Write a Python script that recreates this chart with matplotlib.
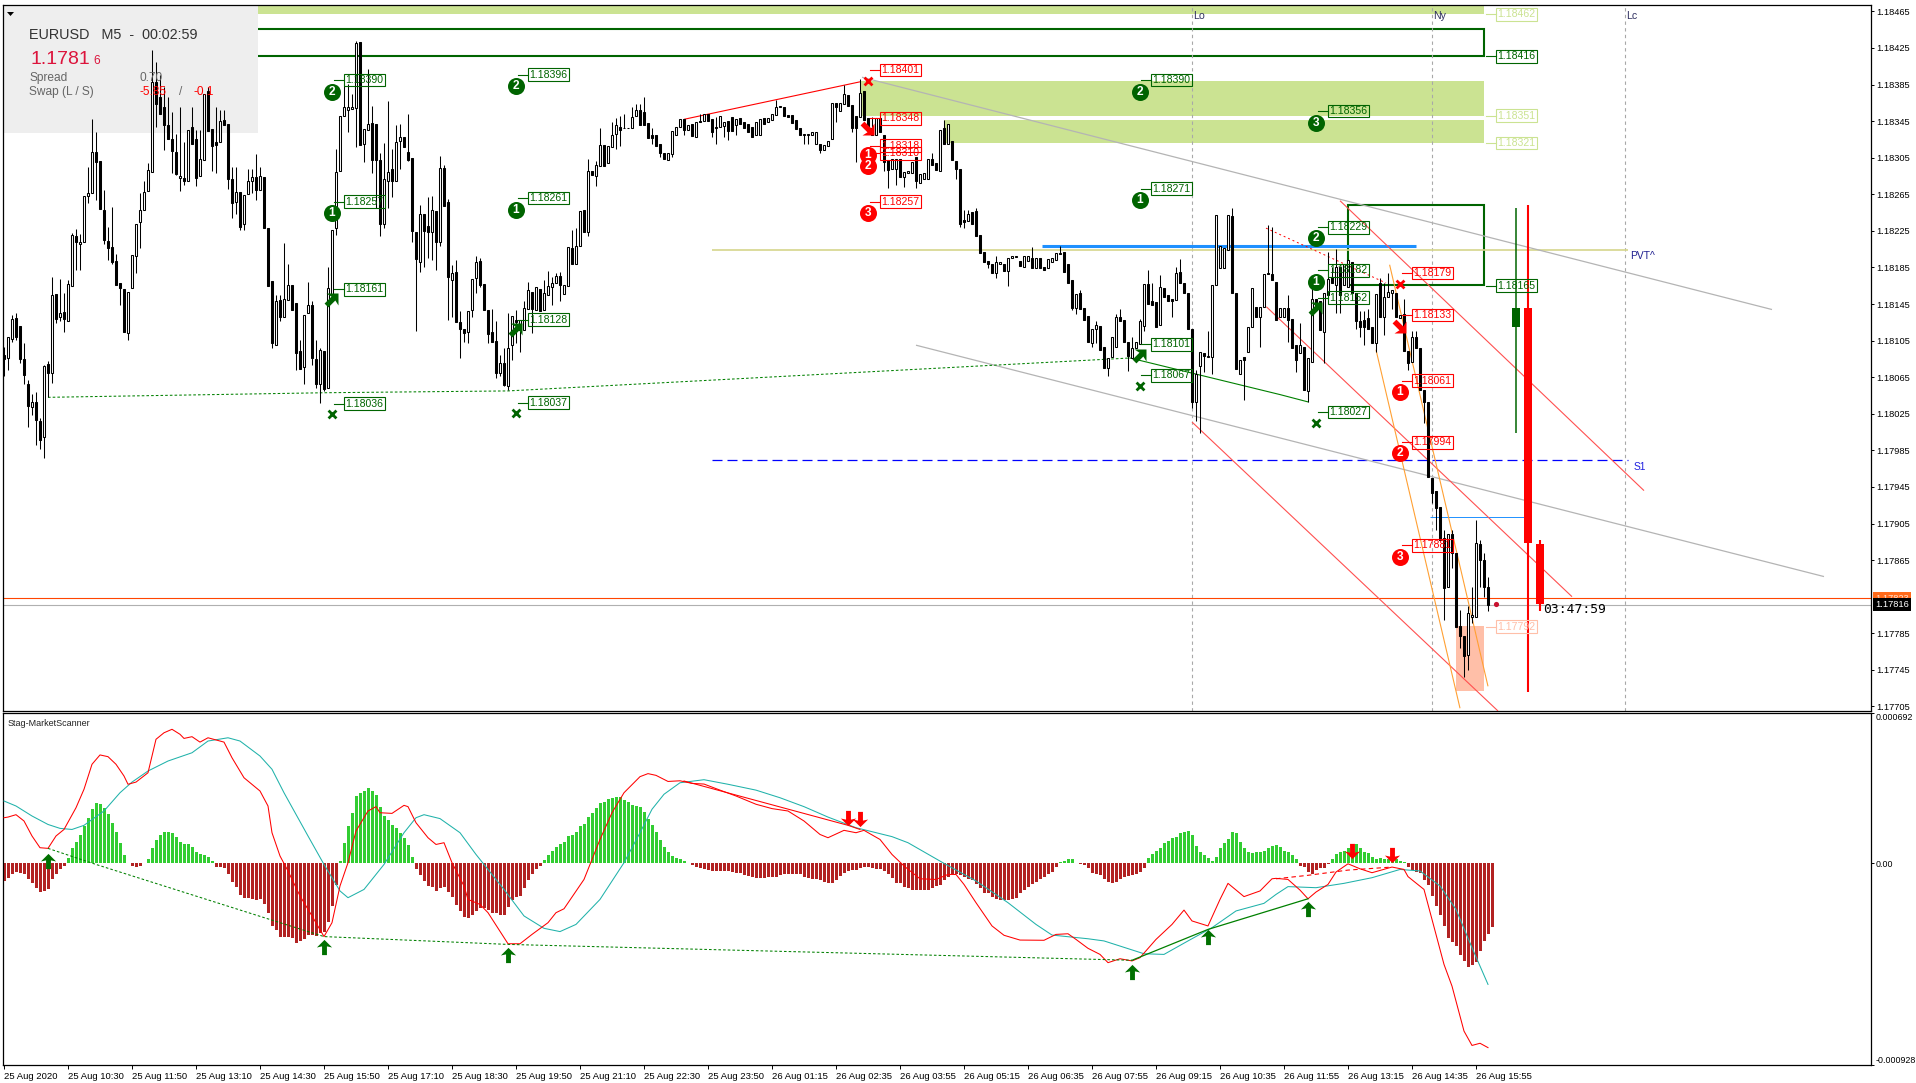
import numpy as np
import matplotlib
matplotlib.use("Agg")
import matplotlib.pyplot as plt
from matplotlib.patches import Rectangle

W, H = 1916, 1083
plt.rcParams['font.family'] = ['Liberation Sans', 'DejaVu Sans']

# ohlc in 1/100000 above 1.0, one bar per 5 minutes
opens = [
 18089,18086,18107,18130,18121,18085,18058,18032,18038,18017,
 18000,18079,18070,18156,18131,18136,18127,18165,18219,18211,
 18213,18263,18266,18311,18301,18248,18214,18207,18192,18168,
 18161,18113,18162,18197,18235,18248,18269,18289,18388,18371,
 18360,18341,18325,18311,18283,18283,18279,18339,18325,18285,
 18303,18378,18336,18322,18322,18346,18342,18282,18257,18268,
 18233,18265,18279,18284,18270,18284,18228,18170,18100,18149,
 18131,18149,18166,18146,18094,18076,18135,18144,18085,18058,
 18094,18053,18156,18228,18290,18351,18357,18358,18359,18431,
 18320,18335,18343,18342,18303,18233,18279,18293,18280,18323,
 18328,18311,18305,18224,18191,18243,18230,18224,18247,18213,
 18294,18257,18171,18180,18125,18118,18114,18138,18174,18192,
 18167,18139,18114,18105,18070,18080,18055,18100,18128,18117,
 18117,18140,18158,18138,18161,18139,18155,18164,18168,18176,
 18156,18165,18206,18189,18208,18248,18224,18291,18285,18296,
 18319,18299,18317,18331,18339,18337,18337,18337,18351,18357,
 18355,18343,18330,18330,18320,18310,18303,18309,18330,18339,
 18347,18335,18342,18328,18345,18345,18353,18347,18339,18339,
 18340,18345,18349,18341,18348,18344,18342,18339,18330,18330,
 18348,18344,18346,18352,18360,18360,18352,18352,18346,18337,
 18330,18330,18330,18320,18320,18313,18318,18326,18365,18356,
 18364,18374,18363,18351,18350,18378,18348,18337,18330,18348,
 18330,18302,18293,18293,18304,18284,18288,18288,18306,18277,
 18282,18282,18304,18299,18291,18337,18320,18323,18301,18293,
 18237,18236,18246,18247,18221,18202,18192,18189,18179,18189,
 18189,18181,18195,18196,18192,18186,18192,18195,18184,18195,
 18186,18184,18191,18193,18200,18202,18189,18171,18141,18157,
 18141,18132,18102,18118,18121,18098,18075,18087,18098,18131,
 18128,18103,18086,18097,18101,18121,18167,18148,18147,18122,
 18163,18155,18151,18149,18180,18168,18157,18118,18038,18077,
 18092,18087,18087,18166,18184,18184,18204,18241,18157,18069,
 18087,18093,18120,18142,18131,18142,18179,18178,18169,18131,
 18131,18141,18129,18100,18091,18098,18050,18082,18151,18148,
 18114,18155,18175,18166,18186,18166,18164,18191,18157,18127,
 18128,18130,18120,18102,18168,18131,18153,18157,18157,18130,
 18134,18094,18082,18109,18097,18051,18038,17955,17941,17923,
 17889,17836,17893,17873,17793,17782,17761,17803,17803,17883,17865,17836]
closes = [
 18085,18109,18129,18109,18085,18067,18033,18038,18018,17996,
 18077,18070,18155,18129,18135,18129,18167,18221,18213,18213,
 18263,18266,18311,18300,18249,18215,18206,18191,18166,18162,
 18114,18158,18199,18233,18248,18268,18292,18388,18364,18353,
 18341,18326,18312,18287,18285,18279,18335,18320,18283,18304,
 18375,18334,18318,18319,18345,18341,18282,18256,18268,18229,
 18264,18280,18284,18270,18285,18228,18165,18102,18148,18131,
 18151,18166,18138,18092,18074,18133,18144,18086,18058,18095,
 18052,18163,18226,18289,18351,18361,18361,18361,18430,18319,
 18336,18342,18303,18302,18233,18282,18289,18279,18322,18328,
 18317,18303,18225,18194,18243,18225,18224,18248,18213,18294,
 18252,18175,18179,18125,18118,18113,18137,18172,18191,18166,
 18138,18112,18103,18070,18080,18057,18097,18132,18125,18128,
 18141,18160,18140,18164,18137,18157,18165,18168,18176,18166,
 18166,18207,18189,18208,18247,18224,18291,18286,18297,18319,
 18296,18318,18330,18341,18335,18338,18338,18350,18357,18341,
 18341,18327,18327,18318,18310,18304,18310,18334,18339,18347,
 18335,18341,18329,18344,18344,18353,18345,18333,18338,18351,
 18344,18334,18334,18347,18342,18338,18333,18328,18344,18347,
 18342,18348,18353,18360,18362,18351,18349,18343,18336,18330,
 18330,18331,18333,18333,18313,18319,18323,18365,18360,18365,
 18375,18362,18338,18338,18376,18346,18335,18330,18348,18333,
 18300,18292,18304,18304,18284,18289,18290,18300,18279,18287,
 18288,18304,18297,18292,18335,18320,18342,18302,18293,18233,
 18235,18243,18233,18219,18201,18191,18189,18179,18191,18191,
 18181,18195,18197,18197,18187,18197,18197,18184,18195,18184,
 18182,18194,18195,18201,18201,18180,18168,18141,18156,18140,
 18128,18104,18118,18122,18095,18075,18086,18109,18131,18126,
 18103,18088,18097,18103,18126,18167,18145,18144,18120,18164,
 18153,18148,18148,18179,18168,18157,18118,18038,18069,18093,
 18088,18088,18166,18242,18208,18206,18242,18157,18074,18084,
 18084,18120,18162,18131,18142,18178,18178,18171,18128,18141,
 18141,18128,18097,18084,18100,18051,18086,18151,18138,18117,
 18157,18172,18168,18186,18155,18189,18193,18157,18126,18120,
 18120,18118,18102,18156,18131,18153,18158,18160,18131,18133,
 18094,18080,18109,18097,18051,18038,17956,17938,17922,17887,
 17835,17894,17873,17792,17782,17760,17807,17805,17884,17865,17836,17816]
highs = {0:18098,2:18133,3:18135,5:18102,6:18062,7:18047,8:18049,9:18020,10:18078,11:18083,12:18175,14:18172,
 15:18157,16:18171,17:18223,18:18227,19:18222,21:18295,22:18347,23:18333,25:18270,26:18229,27:18251,28:18200,
 34:18266,35:18280,36:18299,37:18423,38:18410,39:18395,40:18382,41:18371,42:18355,43:18331,44:18360,45:18322,
 47:18360,48:18335,49:18335,51:18382,53:18360,54:18357,55:18357,57:18295,58:18295,61:18293,62:18293,63:18309,
 64:18295,68:18155,69:18155,70:18212,71:18189,74:18106,76:18169,77:18148,78:18106,79:18097,81:18186,83:18314,
 85:18386,86:18386,87:18375,88:18433,91:18402,92:18362,94:18310,95:18321,96:18367,97:18315,98:18341,99:18342,
 101:18353,104:18253,106:18262,107:18263,109:18307,110:18297,111:18260,112:18188,113:18193,114:18137,118:18197,
 119:18195,122:18140,123:18126,124:18089,125:18097,126:18135,128:18138,130:18148,131:18169,135:18171,136:18181,
 137:18175,138:18179,139:18180,142:18226,143:18228,146:18304,148:18301,149:18337,152:18344,153:18348,154:18351,
 155:18353,157:18360,158:18364,159:18364,160:18371,162:18337,174:18353,178:18350,193:18368,210:18384,214:18391,
 217:18350,232:18310,235:18346,240:18248,241:18248,243:18250,248:18197,257:18207,264:18208,269:18160,273:18126,
 278:18134,279:18140,282:18109,284:18129,286:18182,287:18168,289:18177,293:18186,294:18194,298:18073,301:18115,
 307:18250,316:18231,317:18229,321:18155,324:18124,327:18162,331:18202,332:18186,333:18205,339:18137,340:18137,
 341:18140,344:18173,345:18168,346:18179,350:18151,352:18115,353:18115,360:17898,362:17898,364:17810,366:17815,
 367:17836,368:17909,369:17887,370:17873,371:17847}
lows = {0:18066,1:18073,2:18104,3:18106,4:18080,5:18058,6:18011,7:18024,8:17991,9:17987,10:17977,11:18043,12:18059,
 13:18124,14:18126,15:18114,18:18182,19:18182,21:18255,23:18259,25:18211,26:18193,27:18189,29:18144,31:18106,
 33:18179,34:18206,38:18339,40:18313,42:18288,43:18286,44:18269,45:18275,48:18274,52:18290,53:18288,56:18271,
 57:18239,58:18244,59:18226,60:18226,62:18266,63:18259,67:18097,69:18126,73:18073,75:18058,77:18078,78:18053,
 79:18037,80:18050,83:18221,86:18333,88:18317,90:18300,92:18288,93:18250,94:18219,95:18228,96:18250,97:18262,
 99:18293,101:18301,102:18213,103:18116,104:18180,105:18186,106:18195,107:18193,108:18182,109:18208,111:18128,
 112:18131,114:18086,115:18104,116:18102,117:18131,118:18157,119:18164,121:18102,123:18064,124:18066,125:18055,
 126:18051,127:18084,128:18102,129:18093,132:18113,137:18144,139:18148,146:18219,148:18274,153:18314,154:18318,
 162:18320,164:18306,167:18306,170:18330,177:18328,178:18320,180:18328,181:18324,183:18330,200:18320,201:18320,
 204:18310,208:18344,212:18333,213:18300,220:18290,221:18272,223:18275,225:18273,228:18272,238:18282,239:18229,
 240:18228,246:18184,248:18174,251:18165,267:18138,268:18134,272:18098,273:18102,276:18066,281:18072,285:18115,
 292:18131,297:18031,298:18017,299:18004,300:18071,302:18069,310:18040,314:18098,321:18104,323:18071,326:18038,
 330:18080,333:18135,334:18135,338:18118,339:18109,340:18100,343:18093,345:18111,347:18140,351:18073,355:18015,
 357:17927,358:17898,360:17800,362:17856,364:17769,365:17737,366:17745,367:17796,369:17836,370:17825,371:17809}

# histogram in 1e-6
hist = [
 -81,-69,-51,-38,-43,-51,-74,-89,-115,-133,-127,-117,-74,-49,-28,-12,
 23,69,100,130,172,207,249,276,272,253,226,187,143,95,38,3,
 -11,-17,-12,3,18,69,107,130,143,146,138,123,100,89,87,77,51,41,38,28,9,
 -15,-18,-23,-51,-87,-110,-146,-158,-161,-163,-169,-163,-189,-230,-287,-307,-337,-337,-337,-345,-368,-357,-350,
 -330,-330,-334,-319,-316,-268,-195,-100,
 9,95,172,230,310,325,334,345,334,314,261,218,199,176,161,138,115,84,31,
 -28,-54,-81,-104,-110,-127,-115,-107,-130,-156,-192,-219,-249,-253,-238,-219,-204,-207,-215,-227,-230,-238,-238,
 -199,-169,-153,-150,-115,-77,-51,-26,-12,
 14,38,58,77,87,100,127,130,146,172,179,212,233,253,276,281,295,302,304,304,291,284,268,264,
 258,235,202,176,143,107,77,54,34,26,18,9,3,
 -8,-18,-23,-26,-31,-35,-35,-35,-35,-35,-38,-43,-46,-54,-58,-64,-67,-67,-66,-64,-64,-61,-54,-51,-51,-51,-51,-51,
 -61,-69,-71,-74,-77,-87,-92,-92,-77,-58,-43,-34,-32,-31,-23,-18,-18,-23,-26,-28,-37,-51,-69,-89,-92,-110,-115,
 -123,-123,-123,-123,-123,-115,-104,-100,-77,-61,-51,-51,-54,-61,-71,-77,-95,-115,-135,-138,-153,-166,-169,-169,
 -169,-166,-158,-138,-123,-110,-95,-84,-72,-61,-49,-38,-18,
 5,12,18,18,3,-3,-8,-23,-46,-51,-55,-74,-84,-92,-84,-72,-64,-57,-54,-49,-38,-23,
 23,41,58,69,92,103,115,123,138,146,147,130,80,54,38,23,11,31,69,95,110,143,138,100,69,51,46,54,54,58,69,81,84,74,
 58,54,38,18,-11,-15,-38,-51,-31,-23,-23,-5,18,43,54,57,72,87,87,69,54,46,28,20,23,18,18,18,18,12,8,
 -18,-31,-38,-46,-77,-100,-150,-196,-238,-288,-345,-364,-379,-422,-449,-476,-468,-456,-403,-357,-325,-295]

fast_bars = [0,1,3,5,7,9,11,13,15,18,20,22,24,26,28,30,31,33,36,38,40,42,44,45,47,49,51,53,55,57,60,64,66,67,69,71,74,77,80,
 82,84,86,88,91,93,94,97,100,101,103,106,108,110,112,115,116,119,121,126,129,132,136,138,140,145,149,152,155,159,
 161,163,166,169,172,175,179,183,188,192,196,200,204,206,210,213,215,219,222,225,229,233,236,238,240,243,247,250,254,260,
 263,266,268,271,274,276,279,282,284,288,292,295,297,301,304,306,310,314,317,
 318,321,324,326,328,331,333,336,339,342,347,350,351,355,357,360,362,365,367,369,371]
fast_vals = [210,213,224,195,126,72,69,126,156,256,341,456,499,491,456,402,364,374,417,571,601,617,594,575,583,558,578,568,558,
 486,394,333,264,141,34,-35,-150,-242,-337,-273,-104,3,149,241,261,233,230,267,261,187,118,87,95,3,-104,-166,-189,-227,
 -370,-370,-327,-273,-227,-209,-74,110,233,325,399,
 413,405,377,380,368,365,337,310,272,252,241,195,133,118,152,141,152,110,41,-12,-71,-74,-51,-51,-97,-181,-288,-331,-353,-354,
 -327,-324,-350,-391,-419,-457,-439,-449,-434,-350,-281,-215,-265,-288,-166,-92,-153,-127,-71,
 -69,-74,-123,-163,-132,-97,-40,-2,-25,-43,-17,-28,-61,-120,-258,-465,-565,-772,-838,-828,-848]
slow_bars = [0,3,7,11,14,17,20,25,29,32,36,41,47,51,56,59,64,67,70,76,80,84,86,90,95,100,103,105,109,114,118,125,130,135,139,143,149,155,159,
 162,165,169,175,181,188,194,200,206,213,222,226,235,243,251,258,262,271,275,285,290,296,302,308,315,
 318,321,328,335,342,349,354,359,363,367,371]
slow_vals = [287,264,218,179,161,156,175,241,325,374,425,471,509,563,578,563,494,433,325,126,-5,-127,-158,-120,-5,141,210,224,206,141,
 41,-120,-242,-299,-314,-281,-166,3,141,
 249,318,371,385,364,337,302,261,213,164,123,95,0,-81,-181,-281,-330,-347,-357,-416,-419,-357,-296,-219,-184,
 -143,-107,-112,-92,-66,-28,-35,-104,-212,-388,-557]

sig_dash_bars = [11,23,80,126,282]
sig_dash_vals = [69,-5,-337,-373,-446]
sig_up_bars = [282,301,326]
sig_up_vals = [-446,-304,-163]
sig_red_bars = [170,211,214]
sig_red_vals = [379,175,156]
sig_reddash_bars = [318,326,336,347]
sig_reddash_vals = [-71,-55,-31,-17]
up_arrow_bars = [11,80,126,282,301,326]
up_arrow_vals = [10,-385,-423,-500,-340,-210]
dn_arrow_bars = [211,214,337,347]
dn_arrow_vals = [210,205,55,40]

time_labels = ['25 Aug 2020','25 Aug 10:30','25 Aug 11:50','25 Aug 13:10','25 Aug 14:30','25 Aug 15:50','25 Aug 17:10',
 '25 Aug 18:30','25 Aug 19:50','25 Aug 21:10','25 Aug 22:30','25 Aug 23:50','26 Aug 01:15','26 Aug 02:35','26 Aug 03:55',
 '26 Aug 05:15','26 Aug 06:35','26 Aug 07:55','26 Aug 09:15','26 Aug 10:35','26 Aug 11:55','26 Aug 13:15','26 Aug 14:35','26 Aug 15:55']

# tags (bar, value)
green_tags = [(85,18390),(131,18396),(131,18261),(85,18257),(85,18161),(131,18128),(85,18036),(131,18037),
 (286.8,18390),(286.8,18271),(286.8,18101),(286.8,18067),(331,18356),(331,18229),(331,18182),(331,18152),(331,18027),
 (373,18416),(373,18165)]
pale_tags = [(373,18462),(373,18351),(373,18321)]
red_tags = [(219,18401),(219,18348),(219,18318),(219,18310),(219,18257),
 (352,18179),(352,18133),(352,18061),(352,17994),(352,17881)]
green_nums = [(82,18377,'2'),(128,18383,'2'),(128,18248,'1'),(82,18245,'1'),(284,18377,'2'),(284,18259,'1'),
 (328,18343,'3'),(328,18217,'2'),(328,18169,'1')]
red_nums = [(216,18308,'1'),(216,18296,'2'),(216,18245,'3'),(349,18049,'1'),(349,17982,'2'),(349,17868,'3')]
green_cross_bars = [82,128,284,328]
green_cross_vals = [18025,18026,18055,18015]
red_cross_bars = [216,349]
red_cross_vals = [18389,18167]
green_diag_bars = [82,128,284,328]
green_diag_vals = [18150,18118,18089,18141]
red_diag_bars = [216,349]
red_diag_vals = [18336,18120]


def px(v):
    return 1 + np.asarray(v, dtype=float) / 1e5


def make_ax(top, bottom):
    a = fig.add_axes([3 / W, 1 - bottom / H, 1868 / W, (bottom - top) / H])
    a.set_xlim(-0.25, 466.75)
    a.yaxis.tick_right()
    for s in a.spines.values():
        s.set_linewidth(0.9)
    a.tick_params(axis='y', length=2, width=0.7, pad=2, labelsize=6.7)
    return a


def seg(x0, v0, x1, v1, color, lw=0.8, ls='-', z=3):
    ax.plot([x0, x1], px([v0, v1]), color=color, lw=lw, ls=ls, zorder=z, solid_capstyle='butt')


def tag(bar, val, color):
    ax.plot([bar - 2.5, bar], px([val, val]), color=color, lw=0.8, zorder=6)
    ax.text(bar + 0.35, px(val), '%.5f' % px(val), color=color, fontsize=7.6, va='center', ha='left', zorder=7,
            bbox=dict(boxstyle='square,pad=0.13', fc='none', ec=color, lw=0.8))


def num(bar, val, txt, color):
    ax.scatter([bar], px([val]), s=150, color=color, zorder=7, linewidths=0)
    ax.text(bar, px(val), txt, color='white', fontsize=8.6, fontweight='bold', ha='center', va='center', zorder=8)


def rotated(verts, deg):
    t = np.radians(deg)
    m = np.array([[np.cos(t), -np.sin(t)], [np.sin(t), np.cos(t)]])
    return np.asarray(verts) @ m.T


arrow = [(0, 1), (1.0, 0.0), (0.32, 0.15), (0.32, -1), (-0.32, -1), (-0.32, 0.15), (-1.0, 0.0)]

fig = plt.figure(figsize=(W / 100, H / 100), dpi=100)
ax = make_ax(5, 711)
ax.set_ylim(1.17700, 1.18472)

# info panel, candles draw over it
ax.add_patch(Rectangle((-0.25, 1.18332), 63.75, 0.0014, fc='#EEEEEE', ec='none', zorder=2))

zone = '#CBE392'
ax.add_patch(Rectangle((-0.25, px(18462)), 370.25, px(18472) - px(18462), fc=zone, ec='none', zorder=1))
ax.add_patch(Rectangle((214, px(18351)), 156, px(18389) - px(18351), fc=zone, ec='none', zorder=1))
ax.add_patch(Rectangle((235, px(18321)), 135, px(18346) - px(18321), fc=zone, ec='none', zorder=1))
ax.add_patch(Rectangle((363, px(17722)), 7, px(17793) - px(17722), fc='#FFBFA8', ec='none', zorder=1))
dg = '#006400'
ax.add_patch(Rectangle((-5, px(18416)), 375, px(18446) - px(18416), fc='none', ec=dg, lw=1.5, zorder=1.5))
ax.add_patch(Rectangle((336, px(18166)), 34, px(18253) - px(18166), fc='none', ec=dg, lw=1.5, zorder=3))

for b, name in [(297, 'Lo'), (357, 'Ny'), (405.25, 'Lc')]:
    ax.axvline(b, color='#A8A8A8', lw=0.8, ls=(0, (3, 3)), zorder=1.5)
    ax.text(b + 0.4, px(18460), name, color='#303060', fontsize=7.6, va='center', ha='left', zorder=3)

# price lines
ax.axhline(px(17824), color='#FF4500', lw=0.8, zorder=2)
ax.axhline(px(17816), color='#B0B0B0', lw=0.8, zorder=2)
seg(177, 18204, 406, 18204, '#D6D68C', 1.2)
seg(259.5, 18209, 353, 18209, '#1E90FF', 2.2)
seg(356.5, 17912, 381, 17912, '#1E90FF', 0.7)
seg(177, 17974, 406, 17974, '#0000FF', 0.9, (0, (8, 4)))
seg(214.5, 18393, 442, 18139, '#B4B4B4', 0.9)
seg(228, 18100, 455, 17847, '#B4B4B4', 0.9)
seg(297, 18016, 373.5, 17700, '#FF5050', 0.8)
seg(334, 18258, 410, 17941, '#FF5050', 0.8)
seg(315.6, 18142, 392, 17825, '#FF5050', 0.8)
seg(315.5, 18228, 345.5, 18168, '#FF0000', 0.7, (0, (2, 3)))
seg(343, 18095, 364, 17703, '#FFA033', 0.8)
seg(346.4, 18188, 371, 17727, '#FFA033', 0.8)
seg(170, 18347, 214, 18388, '#FF0000', 0.8)
ax.plot([11, 80, 126, 281.5], px([18043, 18048, 18050, 18086]), color='#008000', lw=0.75, ls=(0, (2.5, 2)), zorder=3)
ax.plot([281.5, 319, 326], px([18086, 18046, 18038]), color='#008000', lw=0.8, zorder=3)

# candles
bars = np.arange(len(opens))
o = px(opens)
c = px(closes)
hi = np.array([max(opens[i], closes[i], highs.get(i, 0)) for i in bars])
lo = np.array([min(opens[i], closes[i], lows.get(i, 99999)) for i in bars])
ax.vlines(bars, px(lo), px(hi), color='black', lw=0.75, zorder=4)
up = c >= o
for mask, fc in [(up, 'white'), (~up, 'black')]:
    ax.bar(bars[mask], np.maximum(np.abs(c - o)[mask], 1e-5), bottom=np.minimum(o, c)[mask], width=0.5,
           fc=fc, ec='black', lw=0.75, zorder=4.5)

# big candles to the right
ax.vlines(378, px(18004), px(18250), color=dg, lw=1.1, zorder=5)
ax.bar(378, px(18141) - px(18120), bottom=px(18120), width=2, fc=dg, ec='none', zorder=5)
ax.vlines(381, px(17721), px(18253), color='#FF0000', lw=1.5, zorder=5)
ax.bar(381, px(18141) - px(17884), bottom=px(17884), width=1.9, fc='#FF0000', ec='none', zorder=5)
ax.vlines(384, px(17809), px(17887), color='#FF0000', lw=1.5, zorder=5)
ax.bar(384, px(17883) - px(17817), bottom=px(17817), width=1.9, fc='#FF0000', ec='none', zorder=5)
ax.scatter([373], px([17817]), s=14, color='#C8102E', zorder=6, linewidths=0)

# tags and signal marks
for b, v in green_tags:
    tag(b, v, dg)
for b, v in pale_tags:
    tag(b, v, zone)
tag(373, 17792, '#FFBFA8')
for b, v in red_tags:
    tag(b, v, '#FF0000')
for b, v, t in green_nums:
    num(b, v, t, dg)
for b, v, t in red_nums:
    num(b, v, t, '#FF0000')
ax.scatter(green_cross_bars, px(green_cross_vals), marker='x', s=32, color=dg, linewidths=2, zorder=7)
ax.scatter(red_cross_bars, px(red_cross_vals), marker='x', s=32, color='#FF0000', linewidths=2, zorder=7)
ax.scatter(green_diag_bars, px(green_diag_vals), marker=rotated(arrow, -45), s=130, color=dg, linewidths=0, zorder=7)
ax.scatter(red_diag_bars, px(red_diag_vals), marker=rotated(arrow, -135), s=130, color='#FF0000', linewidths=0, zorder=7)

ax.text(406.5, px(18197), 'PVT^', color='#202090', fontsize=7.4, va='center', zorder=7)
ax.text(407.5, px(17967), 'S1', color='#2020E0', fontsize=7.4, va='center', zorder=7)
ax.text(384.7, px(17811), '03:47:59', color='black', fontsize=9.4, family='DejaVu Sans Mono', va='center', zorder=7)


# info panel text
def panel(xp, yp, s, **kw):
    fig.text(xp / W, 1 - yp / H, s, va='center', ha='left', zorder=9, **kw)


panel(29, 35, 'EURUSD   M5  -  00:02:59', color='#333333', fontsize=10.4)
panel(30, 59, '1.1781', color='#DC143C', fontsize=14)
panel(93, 61, '6', color='#DC143C', fontsize=8.6)
panel(29, 78, 'Spread', color='#666666', fontsize=8.6)
panel(139, 78, '0.70', color='#666666', fontsize=8.6)
panel(29, 92, 'Swap (L / S)', color='#666666', fontsize=8.6)
panel(139, 92, '-5.85', color='#FF0000', fontsize=8.6)
panel(179, 92, '/', color='#666666', fontsize=8.6)
panel(194, 92, '-0.1', color='#FF0000', fontsize=8.6)
fig.add_artist(plt.Polygon([[7 / W, 1 - 12 / H], [14 / W, 1 - 12 / H], [10.5 / W, 1 - 16 / H]], closed=True,
                           transform=fig.transFigure, fc='black', ec='none'))

ytick_pts = [18465, 18425, 18385, 18345, 18305, 18265, 18225, 18185, 18145, 18105, 18065, 18025, 17985, 17945, 17905,
             17865, 17785, 17745, 17705]
ax.set_yticks(px(ytick_pts))
ax.set_yticklabels(['%.5f' % v for v in px(ytick_pts)])
ax.set_xticks([])

# current price tags on the axis
for val, fc, tc, z in [(17823, '#FF6A1A', '#FFE0D0', 9), (17816, 'black', 'white', 10)]:
    ax.annotate('%.5f' % px(val), xy=(1.0, px(val)), xycoords=('axes fraction', 'data'), xytext=(3, 0),
                textcoords='offset points', fontsize=6.7, color=tc, va='center', ha='left', annotation_clip=False, zorder=z,
                bbox=dict(boxstyle='square,pad=0.22', fc=fc, ec='none'))

# indicator window
ax2 = make_ax(713, 1065)
ax2.set_ylim(-0.000928, 0.000692)
h = np.array(hist) / 1e6
hb = np.arange(len(hist))
ax2.bar(hb[h > 0], h[h > 0], width=0.75, color='#32CD32', ec='none', zorder=2, antialiased=False)
ax2.bar(hb[h <= 0], h[h <= 0], width=0.75, color='#B22222', ec='none', zorder=2, antialiased=False)
ax2.plot(slow_bars, np.array(slow_vals) / 1e6, color='#20B2AA', lw=0.75, zorder=3)
ax2.plot(fast_bars, np.array(fast_vals) / 1e6, color='#FF0000', lw=0.75, zorder=4)
ax2.plot(sig_dash_bars, np.array(sig_dash_vals) / 1e6, color='#008000', lw=0.75, ls=(0, (2.5, 2)), zorder=4)
ax2.plot(sig_up_bars, np.array(sig_up_vals) / 1e6, color='#008000', lw=0.9, zorder=4)
ax2.plot(sig_red_bars, np.array(sig_red_vals) / 1e6, color='#FF0000', lw=0.75, zorder=4)
ax2.plot(sig_reddash_bars, np.array(sig_reddash_vals) / 1e6, color='#FF0000', lw=0.8, ls=(0, (4, 3)), zorder=4)
ax2.scatter(up_arrow_bars, np.array(up_arrow_vals) / 1e6, marker=arrow, s=120, color='#007000', linewidths=0, zorder=5)
ax2.scatter(dn_arrow_bars, np.array(dn_arrow_vals) / 1e6, marker=rotated(arrow, 180), s=120, color='#FF0000', linewidths=0, zorder=5)
ax2.text(5 / 1868, 1 - 10 / 352, 'Stag-MarketScanner', transform=ax2.transAxes, fontsize=6.5, va='center', color='#222222')

ax2.set_yticks([0.000692, 0, -0.000928])
ax2.set_yticklabels(['0.000692', '0.00', '-0.000928'])
ax2.tick_params(axis='y', pad=1, labelsize=6.4)
ylab = ax2.get_yticklabels()
ylab[0].set_va('top')
ylab[0].set_y(0.000692 - 0.000012)
ylab[2].set_va('bottom')

ax2.set_xticks(np.arange(len(time_labels)) * 16)
ax2.set_xticklabels(time_labels, ha='left', fontsize=6.8)
ax2.tick_params(axis='x', length=3, width=0.7, pad=2)

fig.savefig('out.png', dpi=100, facecolor='white')
